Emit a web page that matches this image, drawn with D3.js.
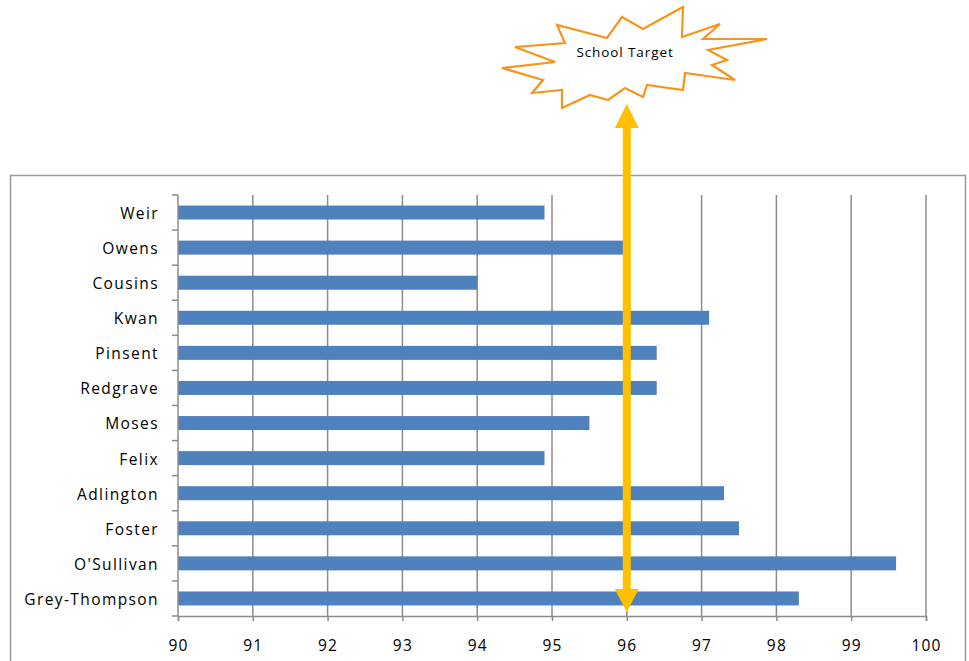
<!DOCTYPE html>
<html>
<head>
<meta charset="utf-8">
<script src="https://cdn.jsdelivr.net/npm/d3@7"></script>
<style>
  body { margin: 0; background: #fff; }
  text { font-family: "Open Sans", "DejaVu Sans", sans-serif; fill: #000; }
</style>
</head>
<body>
<div id="chart"></div>
<script>
const width = 969;
const height = 661;

const names = ["Weir", "Owens", "Cousins", "Kwan", "Pinsent", "Redgrave", "Moses",
    "Felix", "Adlington", "Foster", "O'Sullivan", "Grey-Thompson"];
const scores = [94.9, 96.0, 94.0, 97.1, 96.4, 96.4, 95.5, 94.9, 97.3, 97.5, 99.6, 98.3];
const xTicks = [90, 91, 92, 93, 94, 95, 96, 97, 98, 99, 100];
const schoolTarget = 96;
const targetLabel = "School Target";

const svg = d3.select("#chart").append("svg")
    .attr("width", width)
    .attr("height", height);

// chart area border
svg.append("rect")
    .attr("x", 10.5)
    .attr("y", 175.5)
    .attr("width", 955)
    .attr("height", 500)
    .attr("fill", "none")
    .attr("stroke", "#9a9a9a")
    .attr("stroke-width", 1.5);

const x = d3.scaleLinear().domain([90, 100]).range([178, 926]);
const yBands = d3.scaleBand().domain(names).range([195, 616]);

// vertical gridlines
svg.append("g")
    .selectAll("line")
    .data(xTicks.slice(1))
    .join("line")
    .attr("x1", d => x(d))
    .attr("x2", d => x(d))
    .attr("y1", 195)
    .attr("y2", 616)
    .attr("stroke", "#8c8c8c")
    .attr("stroke-width", 1.5);

// bars
svg.append("g")
    .selectAll("rect")
    .data(names)
    .join("rect")
    .attr("x", x(90))
    .attr("y", d => yBands(d) + yBands.bandwidth() / 2 - 7)
    .attr("width", (d, i) => x(scores[i]) - x(90))
    .attr("height", 14)
    .attr("fill", "#4f81bd");

// x axis
const xAxis = svg.append("g")
    .attr("transform", "translate(0,616)")
    .call(d3.axisBottom(x).tickValues(xTicks).tickSize(5).tickPadding(19).tickFormat(d3.format("d")));
xAxis.selectAll("path, line").attr("stroke", "#8c8c8c").attr("stroke-width", 1.5);
xAxis.selectAll("text")
    .attr("font-size", 15.5)
    .attr("letter-spacing", 1.2)
    .attr("font-family", "Open Sans, sans-serif");

// y axis: ticks between categories
const yAxis = svg.append("g").attr("transform", "translate(178,0)");
yAxis.append("line")
    .attr("y1", 195).attr("y2", 616)
    .attr("stroke", "#8c8c8c").attr("stroke-width", 1.5);
yAxis.selectAll(".tk")
    .data(names.concat(["end"]))
    .join("line")
    .attr("class", "tk")
    .attr("x1", -6).attr("x2", 0)
    .attr("y1", (d, i) => 195 + i * yBands.bandwidth())
    .attr("y2", (d, i) => 195 + i * yBands.bandwidth())
    .attr("stroke", "#8c8c8c").attr("stroke-width", 1.5);
yAxis.selectAll("text")
    .data(names)
    .join("text")
    .attr("x", -19)
    .attr("y", d => yBands(d) + yBands.bandwidth() / 2 + 1)
    .attr("dy", "0.35em")
    .attr("text-anchor", "end")
    .attr("font-size", 15.5)
    .attr("letter-spacing", 1.4)
    .text(d => d);

// double-headed target arrow
const ax = x(schoolTarget);
const arrowColor = "#ffc000";
svg.append("rect")
    .attr("x", ax - 4).attr("y", 126)
    .attr("width", 8).attr("height", 466)
    .attr("fill", arrowColor);
svg.append("polygon")
    .attr("points", `${ax},104 ${ax + 12},128 ${ax - 12},128`)
    .attr("fill", arrowColor);
svg.append("polygon")
    .attr("points", `${ax},612 ${ax + 12},589 ${ax - 12},589`)
    .attr("fill", arrowColor);

// explosion callout
const star = [[502, 68], [555, 62], [515, 47], [565, 43], [557, 25], [607, 38], [622, 17],
    [643, 29], [683, 7], [682, 37], [720, 24], [703, 39], [767, 39], [708, 50], [727, 60],
    [712, 65], [735, 80], [685, 73], [683, 90], [647, 85], [643, 97], [625, 88], [608, 100],
    [590, 95], [562, 108], [562, 90], [532, 93], [543, 80]];
svg.append("polygon")
    .attr("points", star.map(p => p.join(",")).join(" "))
    .attr("fill", "#fff")
    .attr("stroke", "#f7941d")
    .attr("stroke-width", 2.2)
    .attr("stroke-linejoin", "miter");
svg.append("text")
    .attr("x", 625)
    .attr("y", 52)
    .attr("dy", "0.35em")
    .attr("text-anchor", "middle")
    .attr("font-size", 13.5)
    .attr("letter-spacing", 0.9)
    .text(targetLabel);
</script>
</body>
</html>
